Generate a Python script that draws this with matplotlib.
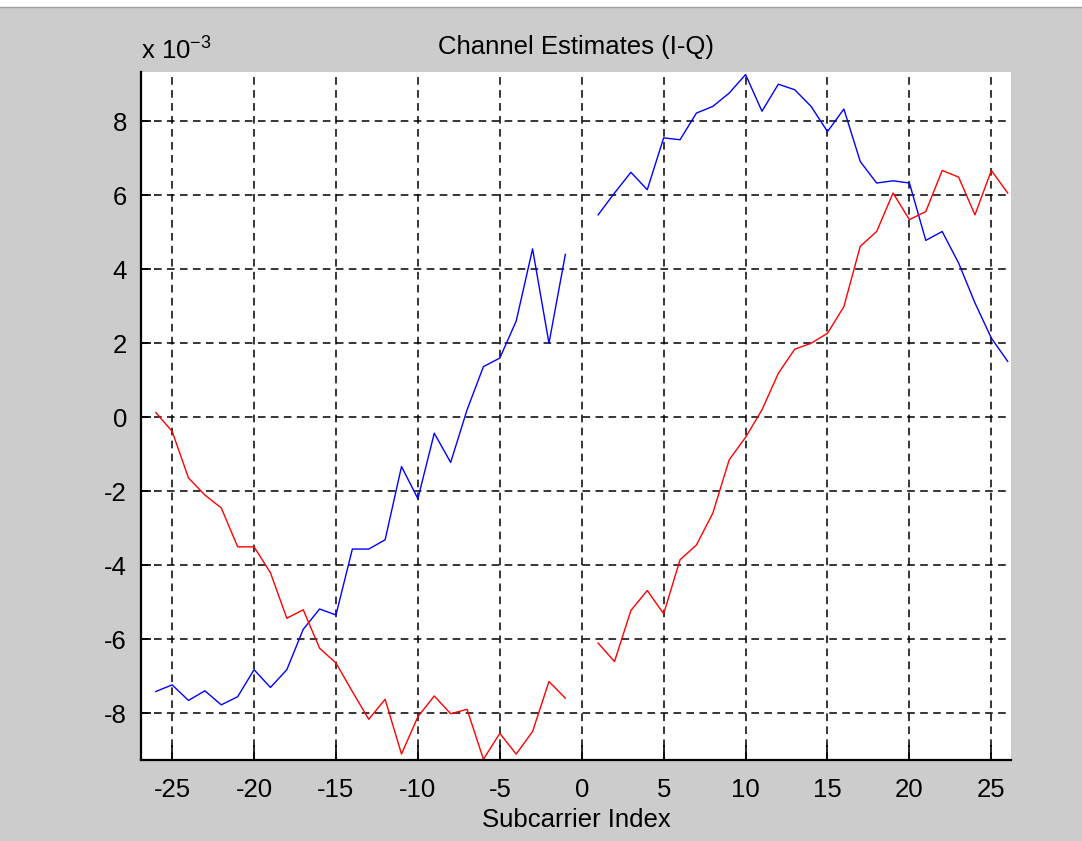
import numpy as np
import matplotlib
matplotlib.use("Agg")
import matplotlib.pyplot as plt
from matplotlib.patches import Rectangle

plt.rcParams['font.family'] = ['Liberation Sans', 'DejaVu Sans']
plt.rcParams['mathtext.fontset'] = 'custom'
plt.rcParams['mathtext.rm'] = 'Liberation Sans'
plt.rcParams['axes.unicode_minus'] = False

# subcarrier indices (DC carrier 0 is not used)
sc_left = np.arange(-26, 0)
sc_right = np.arange(1, 27)

# channel estimates, units of 1e-3
i_left = [-7.41, -7.23, -7.65, -7.39, -7.77, -7.55, -6.82, -7.30, -6.82, -5.73,
          -5.18, -5.34, -3.56, -3.56, -3.31, -1.33, -2.20, -0.43, -1.22, 0.20,
          1.37, 1.60, 2.60, 4.55, 2.00, 4.40]
q_left = [0.13, -0.38, -1.64, -2.10, -2.45, -3.50, -3.50, -4.20, -5.43, -5.20,
          -6.24, -6.64, -7.41, -8.16, -7.62, -9.10, -8.09, -7.53, -8.01, -7.89,
          -9.24, -8.54, -9.10, -8.49, -7.14, -7.59]
i_right = [5.47, 6.06, 6.62, 6.15, 7.55, 7.50, 8.22, 8.40, 8.76, 9.26,
           8.27, 9.00, 8.85, 8.40, 7.72, 8.33, 6.91, 6.33, 6.39, 6.33,
           4.78, 5.02, 4.17, 3.09, 2.14, 1.51]
q_right = [-6.10, -6.60, -5.22, -4.68, -5.31, -3.85, -3.45, -2.59, -1.15, -0.54,
           0.20, 1.19, 1.84, 2.00, 2.27, 2.99, 4.62, 5.02, 6.06, 5.34,
           5.56, 6.67, 6.49, 5.47, 6.67, 6.06]

x_ticks = [-25, -20, -15, -10, -5, 0, 5, 10, 15, 20, 25]
y_ticks = [-8, -6, -4, -2, 0, 2, 4, 6, 8]

fs = 18.5

fig = plt.figure(figsize=(10.82, 8.41), dpi=100, facecolor='#cccccc')
# white strip at top of the screenshot
fig.patches.append(Rectangle((0, 1 - 7 / 841), 1, 7 / 841, transform=fig.transFigure,
                             facecolor='white', edgecolor='none'))
fig.lines.append(plt.Line2D([0, 1], [1 - 7 / 841, 1 - 7 / 841], transform=fig.transFigure,
                            color='#a0a0a0', lw=1))

ax = fig.add_axes([141 / 1082, 81 / 841, 870 / 1082, 688 / 841])
ax.set_facecolor('white')

ax.plot(sc_left, i_left, color='blue', lw=1.0)
ax.plot(sc_right, i_right, color='blue', lw=1.0)
ax.plot(sc_left, q_left, color='red', lw=1.0)
ax.plot(sc_right, q_right, color='red', lw=1.0)

ax.set_xlim(-26.9, 26.2)
ax.set_ylim(-9.26, 9.33)
ax.set_xticks(x_ticks)
ax.set_yticks(y_ticks)
ax.grid(True, color='black', linestyle=(0, (5, 3.5)), lw=1.1)

for side in ['top', 'right']:
    ax.spines[side].set_visible(False)
for side in ['left', 'bottom']:
    ax.spines[side].set_linewidth(1.6)
ax.tick_params(axis='both', direction='in', labelsize=fs, width=1.2, colors='black')
ax.tick_params(axis='x', length=11, pad=13)
ax.tick_params(axis='y', length=7, pad=10)

ax.set_title('Channel Estimates (I-Q)', fontsize=fs, pad=13)
ax.set_xlabel('Subcarrier Index', fontsize=fs, labelpad=4)
ax.text(0, 1.012, r'x 10$^{-3}$', transform=ax.transAxes, fontsize=fs,
        ha='left', va='bottom')

fig.savefig('out.png', dpi=100, facecolor=fig.get_facecolor())
